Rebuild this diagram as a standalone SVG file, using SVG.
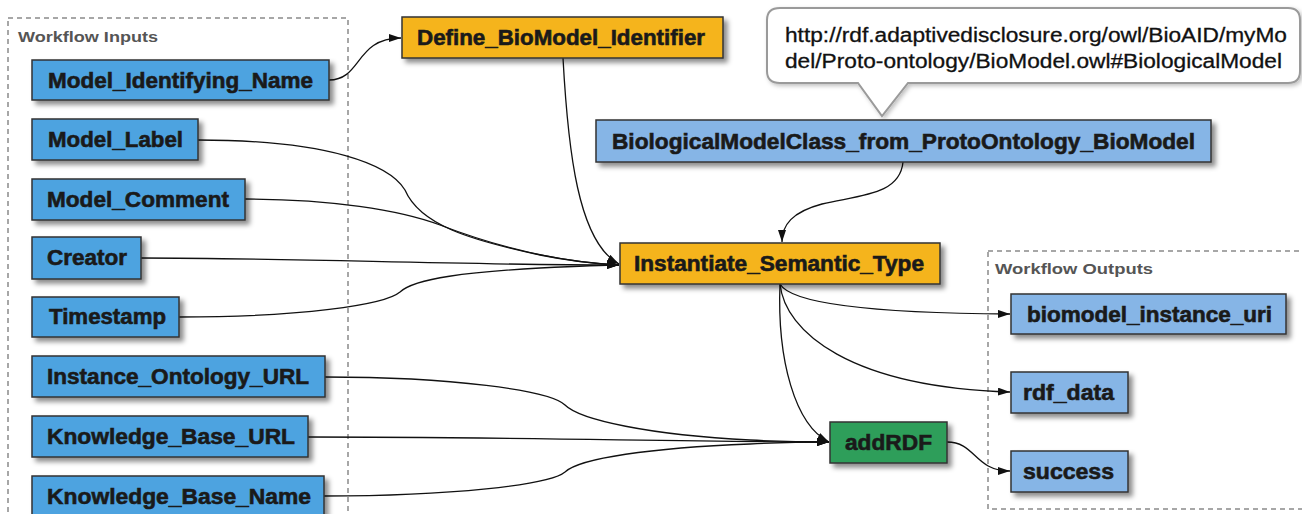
<svg xmlns="http://www.w3.org/2000/svg" width="1302" height="514" viewBox="0 0 1302 514">
<defs>
<filter id="sh" x="-10%" y="-30%" width="130%" height="180%">
<feDropShadow dx="4" dy="4" stdDeviation="2.5" flood-color="#000" flood-opacity="0.45"/>
</filter>
<filter id="shl" x="-10%" y="-30%" width="130%" height="180%">
<feDropShadow dx="2" dy="2" stdDeviation="2" flood-color="#000" flood-opacity="0.25"/>
</filter>
<marker id="ah" viewBox="0 0 12 8" refX="12" refY="4" markerWidth="12" markerHeight="8" markerUnits="userSpaceOnUse" orient="auto">
<path d="M0,0 L12,4 L0,8 Z" fill="#111"/>
</marker>
<style>
.box{stroke:#333;stroke-width:1.5;filter:url(#sh)}
.in{fill:#4da3e0}
.out{fill:#86b5e6}
.org{fill:#f5b41e}
.grn{fill:#2e9e5a}
.t{font-family:"Liberation Sans",Arial,sans-serif;font-weight:bold;font-size:22px;fill:#1a1a1a;stroke:#1a1a1a;stroke-width:0.6}
.grp{fill:none;stroke:#8a8a8a;stroke-width:1.5;stroke-dasharray:5,4}
.gl{font-family:"Liberation Sans",Arial,sans-serif;font-weight:bold;font-size:15px;fill:#555}
.c{fill:none;stroke:#111;stroke-width:1.3;marker-end:url(#ah)}
.ct{font-family:"Liberation Sans",Arial,sans-serif;font-size:20px;fill:#111;stroke:#111;stroke-width:0.3}
</style>
</defs>
<rect width="1302" height="514" fill="#fff"/>

<g id="workflow-inputs">
<rect class="grp" x="8" y="18" width="340" height="510"/>
<text class="gl" x="18" y="42" textLength="140" lengthAdjust="spacingAndGlyphs">Workflow Inputs</text>
</g>
<g id="workflow-outputs">
<rect class="grp" x="988" y="251" width="330" height="258"/>
<text class="gl" x="995" y="274" textLength="158" lengthAdjust="spacingAndGlyphs">Workflow Outputs</text>
</g>

<g id="callout">
<path d="M780,8 H1288 Q1300,8 1300,20 V71 Q1300,83 1288,83 H908 L882,116 L858,83 H780 Q767,83 767,71 V20 Q767,8 780,8 Z" fill="#fff" stroke="#9a9a9a" stroke-width="2" filter="url(#shl)"/>
<text class="ct" x="785" y="42" textLength="502" lengthAdjust="spacingAndGlyphs">http://rdf.adaptivedisclosure.org/owl/BioAID/myMo</text>
<text class="ct" x="785" y="68" textLength="497" lengthAdjust="spacingAndGlyphs">del/Proto-ontology/BioModel.owl#BiologicalModel</text>
</g>

<g id="connectors">
<path class="c" d="M329,80 C362,80 355,38 401,38"/>
<path class="c" d="M563,58 C568,150 578,242 619,264"/>
<path class="c" d="M903,162 C900,195 860,195 822,204 C792,212 782,225 782,242"/>
<path class="c" d="M198,140 C330,140 390,165 405,190 C420,225 470,240 540,255 C570,261 600,264 619,265"/>
<path class="c" d="M245,199 C330,199 400,210 440,225 C500,248 560,262 619,265"/>
<path class="c" d="M141,258 C300,258 450,265 619,265"/>
<path class="c" d="M179,317 C300,317 385,305 400,292 C415,278 470,272 540,268 C580,266 600,265 619,265"/>
<path class="c" d="M325,377 C450,377 550,390 565,405 C580,420 650,435 750,440 C790,442 810,442 829,442"/>
<path class="c" d="M308,437 C500,437 700,442 829,442"/>
<path class="c" d="M324,496 C450,496 550,485 565,472 C580,458 650,448 750,444 C790,442 810,442 829,442"/>
<path class="c" d="M780,284 C790,302 860,313 1010,314"/>
<path class="c" d="M780,284 C785,332 850,387 1010,392"/>
<path class="c" d="M780,284 C777,360 795,425 829,442"/>
<path class="c" d="M947,442 C976,442 974,471 1010,471"/>
</g>

<g id="n-model-identifying-name"><rect class="box in" x="32" y="60" width="297" height="40"/><text class="t" x="48" y="88" textLength="265" lengthAdjust="spacingAndGlyphs">Model_Identifying_Name</text></g>
<g id="n-model-label"><rect class="box in" x="32" y="119" width="166" height="41"/><text class="t" x="48" y="147" textLength="135" lengthAdjust="spacingAndGlyphs">Model_Label</text></g>
<g id="n-model-comment"><rect class="box in" x="32" y="179" width="213" height="41"/><text class="t" x="47" y="207" textLength="182" lengthAdjust="spacingAndGlyphs">Model_Comment</text></g>
<g id="n-creator"><rect class="box in" x="32" y="237" width="109" height="42"/><text class="t" x="47" y="265" textLength="80" lengthAdjust="spacingAndGlyphs">Creator</text></g>
<g id="n-timestamp"><rect class="box in" x="32" y="297" width="147" height="40"/><text class="t" x="49" y="324" textLength="117" lengthAdjust="spacingAndGlyphs">Timestamp</text></g>
<g id="n-instance-ontology-url"><rect class="box in" x="32" y="356" width="293" height="41"/><text class="t" x="47" y="384" textLength="262" lengthAdjust="spacingAndGlyphs">Instance_Ontology_URL</text></g>
<g id="n-knowledge-base-url"><rect class="box in" x="32" y="416" width="276" height="41"/><text class="t" x="47" y="444" textLength="248" lengthAdjust="spacingAndGlyphs">Knowledge_Base_URL</text></g>
<g id="n-knowledge-base-name"><rect class="box in" x="32" y="476" width="292" height="42"/><text class="t" x="47" y="504" textLength="264" lengthAdjust="spacingAndGlyphs">Knowledge_Base_Name</text></g>

<g id="n-define-biomodel-identifier"><rect class="box org" x="402" y="17" width="321" height="41"/><text class="t" x="417" y="45" textLength="288" lengthAdjust="spacingAndGlyphs">Define_BioModel_Identifier</text></g>
<g id="n-biologicalmodelclass"><rect class="box out" x="596" y="120" width="615" height="42"/><text class="t" x="612" y="149" textLength="583" lengthAdjust="spacingAndGlyphs">BiologicalModelClass_from_ProtoOntology_BioModel</text></g>
<g id="n-instantiate-semantic-type"><rect class="box org" x="620" y="243" width="320" height="41"/><text class="t" x="634" y="271" textLength="290" lengthAdjust="spacingAndGlyphs">Instantiate_Semantic_Type</text></g>
<g id="n-addrdf"><rect class="box grn" x="830" y="422" width="117" height="41"/><text class="t" x="845" y="450" textLength="87" lengthAdjust="spacingAndGlyphs">addRDF</text></g>

<g id="n-biomodel-instance-uri"><rect class="box out" x="1011" y="294" width="275" height="40"/><text class="t" x="1027" y="322" textLength="245" lengthAdjust="spacingAndGlyphs">biomodel_instance_uri</text></g>
<g id="n-rdf-data"><rect class="box out" x="1011" y="372" width="117" height="41"/><text class="t" x="1023" y="400" textLength="91" lengthAdjust="spacingAndGlyphs">rdf_data</text></g>
<g id="n-success"><rect class="box out" x="1011" y="451" width="117" height="41"/><text class="t" x="1023" y="479" textLength="91" lengthAdjust="spacingAndGlyphs">success</text></g>
</svg>
